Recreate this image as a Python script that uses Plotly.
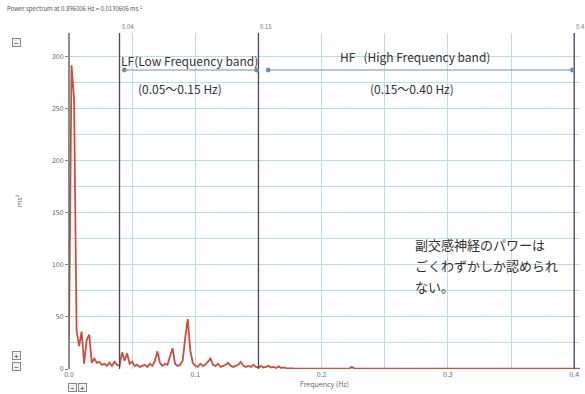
import numpy as np
import plotly.graph_objects as go

# Heart-rate-variability power spectrum (ms^2 per frequency bin)
FREQ_STEP = 0.002
power_low = [
    30, 292, 260, 37, 22, 36, 5, 28, 33, 6,
    10, 6, 7, 4, 5, 3, 6, 3, 7, 4,
    3, 16, 8, 15, 5, 7, 3, 4, 2, 3,
    4, 2, 5, 3, 8, 17, 6, 3, 5, 4,
    12, 20, 5, 3, 4, 8, 30, 48, 18, 6,
    3, 2, 5, 3, 4, 7, 10, 4, 3, 5,
    2, 3, 4, 6, 3, 2, 3, 4, 7, 3,
    2, 3, 2, 4, 2, 1.5, 3, 1.5, 2, 3,
    1.5, 2, 1, 2.5, 1, 1.5, 0.8, 1, 0.6, 0.5,
    0.4, 0.3, 0.3, 0.3, 0.3, 0.3, 0.3, 0.3, 0.3, 0.3,
    0.3, 0.3, 0.3, 0.3, 0.3, 0.3, 0.3, 0.3, 0.3, 0.3,
    0.3, 0.5, 2, 0.5, 0.3,
]
freq_tail = [0.25, 0.30, 0.35, 0.40, 0.41]
power_tail = [0.3, 0.3, 0.3, 0.3, 0.3]

freq_low = list(np.round(np.arange(len(power_low)) * FREQ_STEP, 4))
freq = freq_low + freq_tail
power = power_low + power_tail

# Frequency-band boundaries (Hz)
band_edges = [0.04, 0.15, 0.4]
band_edge_labels = ["0.04", "0.15", "0.4"]

x_ticks = [0.0, 0.1, 0.2, 0.3, 0.4]
y_ticks = [0, 50, 100, 150, 200, 250, 300]

title_text = "Power spectrum at 0.896006 Hz = 0.0130606 ms ²"
note_lines = ["副交感神経のパワーは", "ごくわずかしか認められ", "ない。"]

W, H = 585, 394
L, R, T, B = 69, 5, 33, 25
PX0, PX1, PY0, PY1 = L, W - R, T, H - B


def px_x(p):
    return (p - PX0) / (PX1 - PX0)


def px_y(p):
    return (PY1 - p) / (PY1 - PY0)


FONT = "Noto Sans CJK JP, Noto Sans, sans-serif"
GRID = "#b9dde7"
BAND_LINE = "#4e4460"
ARROW = "#6f8fb4"

fig = go.Figure()
fig.add_trace(go.Scatter(
    x=freq, y=power, mode="lines",
    line=dict(color="#c9503e", width=1.8),
    hoverinfo="skip", showlegend=False,
))

shapes = []
annotations = []

# band boundary lines with their small labels above the plot
for xe, lab in zip(band_edges, band_edge_labels):
    shapes.append(dict(type="line", xref="x", yref="paper", x0=xe, x1=xe,
                       y0=0, y1=1.0, line=dict(color=BAND_LINE, width=1.3)))
    annotations.append(dict(x=xe, y=1.0, xref="x", yref="paper", text=lab,
                            showarrow=False, xanchor="left", yanchor="bottom",
                            font=dict(size=6, color="#777", family=FONT)))

# y axis line
shapes.append(dict(type="line", xref="paper", yref="paper", x0=0, x1=0, y0=0, y1=1,
                   line=dict(color="#666", width=1.5)))

# double-headed band arrows
for x_start, x_end in [(0.0425, 0.1485), (0.1565, 0.3985)]:
    annotations.append(dict(x=x_end, y=px_y(70), ax=x_start, ay=px_y(70),
                            xref="x", yref="y domain", axref="x", ayref="y domain",
                            text="", showarrow=True, arrowhead=6, startarrowhead=6,
                            arrowside="end+start", arrowsize=1, startarrowsize=1,
                            arrowwidth=1.2, arrowcolor=ARROW))

band_texts = [
    ("LF(Low Frequency band)", 189, 60),
    ("HF   (High Frequency band)", 415, 57),
    ("(0.05〜0.15 Hz)", 180, 88),
    ("(0.15〜0.40 Hz)", 412, 88),
]
for txt, cx, cy in band_texts:
    annotations.append(dict(x=px_x(cx), y=px_y(cy), xref="paper", yref="paper",
                            text=txt, showarrow=False, xanchor="center", yanchor="middle",
                            font=dict(size=12, color="#333", family=FONT)))

# note about the weak parasympathetic (HF) power, one line per annotation
for line, cy in zip(note_lines, [244, 265, 286]):
    annotations.append(dict(x=px_x(413), y=px_y(cy), xref="paper", yref="paper",
                            text=line, showarrow=False,
                            xanchor="left", yanchor="middle", align="left",
                            font=dict(size=13, color="#333", family=FONT)))

annotations.append(dict(x=px_x(5), y=px_y(8), xref="paper", yref="paper",
                        text=title_text, showarrow=False, xanchor="left", yanchor="middle",
                        font=dict(size=6, color="#555", family=FONT)))

# small zoom buttons
for sym, cx, cy in [("−", 16, 42), ("+", 16, 355), ("−", 16, 366), ("−", 72, 387), ("+", 82, 387)]:
    annotations.append(dict(x=px_x(cx), y=px_y(cy), xref="paper", yref="paper",
                            text=sym, showarrow=False, xanchor="center", yanchor="middle",
                            width=7, height=7, bordercolor="#888", borderwidth=1, borderpad=0,
                            bgcolor="#f2f2f2",
                            font=dict(size=8, color="#333", family=FONT)))

fig.update_layout(
    width=W, height=H,
    margin=dict(l=L, r=R, t=T, b=B),
    paper_bgcolor="white", plot_bgcolor="white",
    shapes=shapes, annotations=annotations,
    font=dict(family=FONT, color="#555"),
)
fig.update_xaxes(
    range=[0, 0.4046], tickvals=x_ticks, tickformat=".1f",
    showgrid=True, gridcolor=GRID, gridwidth=1.3,
    minor=dict(dtick=0.05, tick0=0, showgrid=True, gridcolor=GRID, gridwidth=1.3),
    zeroline=False, showline=False, ticks="", tickfont=dict(size=7, color="#666"),
    title=dict(text="Frequency (Hz)", font=dict(size=7, color="#666"), standoff=2),
)
fig.update_yaxes(
    range=[0, 323], tickvals=y_ticks,
    showgrid=True, gridcolor=GRID, gridwidth=1.3,
    minor=dict(dtick=25, tick0=0, showgrid=True, gridcolor=GRID, gridwidth=1.3),
    zeroline=False, showline=False, ticks="outside", ticklen=3, tickcolor="#888",
    tickfont=dict(size=7, color="#666"),
    title=dict(text="ms²", font=dict(size=7, color="#666"), standoff=28),
)

fig.write_html("out.html")
